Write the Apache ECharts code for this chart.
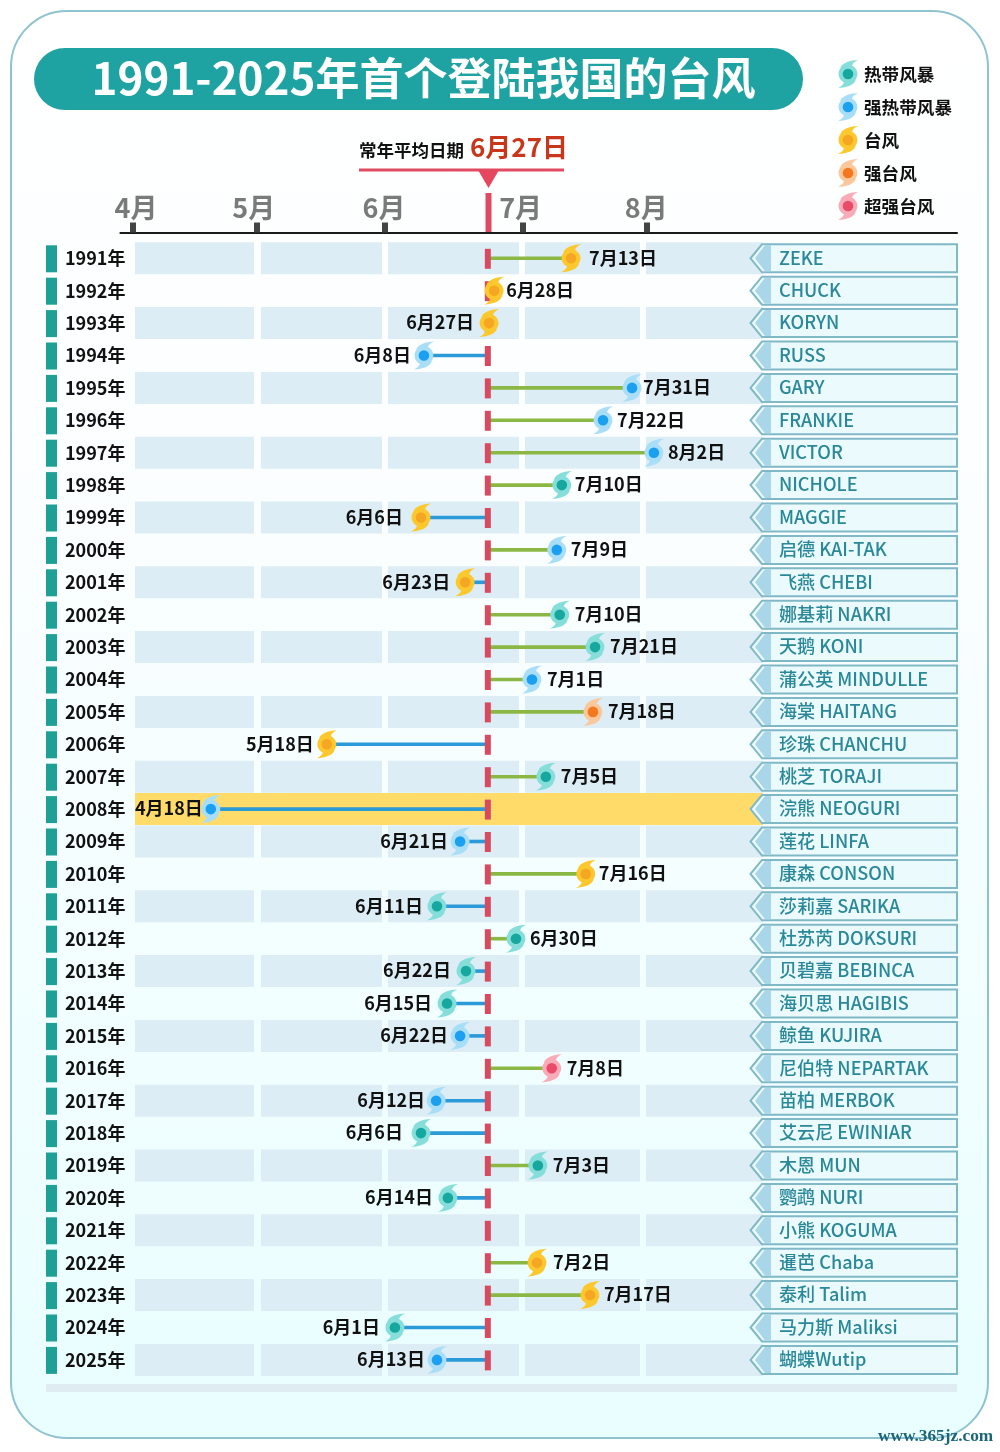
<!DOCTYPE html>
<html><head><meta charset="utf-8">
<style>html,body{margin:0;padding:0;background:#fff}#c{width:1000px;height:1452px}</style>
<script src="https://cdn.jsdelivr.net/npm/echarts@6/dist/echarts.min.js"></script>
</head><body><div id="c"></div>
<script>
const years = ['1991','1992','1993','1994','1995','1996','1997','1998','1999','2000','2001','2002','2003','2004','2005','2006','2007','2008','2009','2010','2011','2012','2013','2014','2015','2016','2017','2018','2019','2020','2021','2022','2023','2024','2025'];
const landingDates = ['7月13日','6月28日','6月27日','6月8日','7月31日','7月22日','8月2日','7月10日','6月6日','7月9日','6月23日','7月10日','7月21日','7月1日','7月18日','5月18日','7月5日','4月18日','6月21日','7月16日','6月11日','6月30日','6月22日','6月15日','6月22日','7月8日','6月12日','6月6日','7月3日','6月14日',null,'7月2日','7月17日','6月1日','6月13日'];
// place of each mark along the picture's time axis (axis units, whose spacing is uneven)
const axisPlaces = [104.2,85.9,84.7,69.2,118.7,111.8,123.9,102.0,68.5,100.8,79.0,101.5,109.9,94.9,109.4,46.1,98.2,18.5,77.8,107.7,72.3,91.1,79.2,74.7,77.8,99.6,72.1,68.5,96.3,74.9,null,96.1,108.7,62.3,72.3];
const grades = ['台风','台风','台风','强热带风暴','强热带风暴','强热带风暴','强热带风暴','热带风暴','台风','强热带风暴','台风','热带风暴','热带风暴','强热带风暴','强台风','台风','热带风暴','强热带风暴','强热带风暴','台风','热带风暴','热带风暴','热带风暴','热带风暴','强热带风暴','超强台风','强热带风暴','热带风暴','热带风暴','热带风暴',null,'台风','台风','热带风暴','强热带风暴'];
const typhoonNames = ['ZEKE','CHUCK','KORYN','RUSS','GARY','FRANKIE','VICTOR','NICHOLE','MAGGIE','启德 KAI-TAK','飞燕 CHEBI','娜基莉 NAKRI','天鹅 KONI','蒲公英 MINDULLE','海棠 HAITANG','珍珠 CHANCHU','桃芝 TORAJI','浣熊 NEOGURI','莲花 LINFA','康森 CONSON','莎莉嘉 SARIKA','杜苏芮 DOKSURI','贝碧嘉 BEBINCA','海贝思 HAGIBIS','鲸鱼 KUJIRA','尼伯特 NEPARTAK','苗柏 MERBOK','艾云尼 EWINIAR','木恩 MUN','鹦鹉 NURI','小熊 KOGUMA','暹芭 Chaba','泰利 Talim','马力斯 Maliksi','蝴蝶Wutip'];
const monthLabels = ['4月','5月','6月','7月','8月'];
const monthPlaces = [0,29.5,59.9,92.6,122.1];
const monthLabelPlaces = [0.7,28.7,59.7,92.2,122.1];
const legendGrades = ['热带风暴','强热带风暴','台风','强台风','超强台风'];
const averagePlace = 84.4;
const averageDate = '6月27日';
const highlightYear = '2008';

// styling only: extra gap between a mark and its date label, per year
const labelNudge = {1991:3,1992:-3,1994:-2,1995:-4,1996:-1,1997:-1,1998:-2,1999:3,2000:-1,2006:-2,2008:-7,2009:-3,2010:-2,2011:-1,2012:-1,2015:-3,2017:-4,2018:3,2022:1,2023:-1,2025:-3};
const gradeColors = {
  '热带风暴':['#86dedb','#16a79f'],
  '强热带风暴':['#a9def8','#1b9ff0'],
  '台风':['#fcc82e','#f5a623'],
  '强台风':['#fbc89c','#f5781f'],
  '超强台风':['#f9abb8','#e94b68']
};
const CJK = '"Noto Sans CJK SC"';
const HALO = 'M-8.5,0 C-8.5,-4.7 -4.7,-8.5 0,-8.5 C4.7,-8.5 8.5,-4.7 8.5,0 C8.5,4.7 4.7,8.5 0,8.5 C-4.7,8.5 -8.5,4.7 -8.5,0 Z M9,-13 C6,-11.5 4,-10 3.5,-7 L-7,-5 C-6,-10 1,-12.5 9,-13 Z M-9,13 C-6,11.5 -4,10 -3.5,7 L7,5 C6,10 -1,12.5 -9,13 Z';
function glyph(cx, cy, g){
  const c = gradeColors[g];
  return [
    {type:'path', shape:{pathData:HALO, x:cx-10, y:cy-14, width:20, height:28, layout:'cover'}, style:{fill:c[0]}},
    {type:'circle', shape:{cx:cx, cy:cy, r:5.3}, style:{fill:c[1]}}
  ];
}
function dateNum(s){ const m=s.match(/(\d+)月(\d+)日/); return +m[1]*100 + +m[2]; }
const idx = years.map((_, i) => i);
const bandEdges = [[135,254],[261,382],[388,519],[525,640],[646,763]];

const option = {
  animation:false,
  backgroundColor:'#ffffff',
  textStyle:{fontFamily:CJK},
  graphic:[
    {type:'rect', z:-10, shape:{x:11,y:11,width:977,height:1427,r:56},
     style:{stroke:'#8fc3cf',lineWidth:2,fill:{type:'linear',x:0,y:0,x2:0,y2:1,colorStops:[{offset:0,color:'#ffffff'},{offset:0.35,color:'#fbfeff'},{offset:1,color:'#e9feff'}]}}},
    {type:'rect', z:-9, shape:{x:34,y:48,width:769,height:62,r:31}, style:{fill:'#1fa2a2'}},
    {type:'text', z:-8, x:423.5, y:78, style:{text:'1991-2025年首个登陆我国的台风', fill:'#fff', font:'bold 44px '+CJK, align:'center', verticalAlign:'middle'}},
    {type:'text', z:-8, x:359, y:150, style:{text:'常年平均日期', fill:'#111', font:'bold 17.5px '+CJK, align:'left', verticalAlign:'middle'}},
    {type:'text', z:-8, x:470, y:147, style:{text:averageDate, fill:'#c8361c', font:'bold 26px '+CJK, align:'left', verticalAlign:'middle'}},
    {type:'rect', z:-8, shape:{x:359,y:168.5,width:205,height:3}, style:{fill:'#e24a60'}},
    {type:'polygon', z:-8, shape:{points:[[478,170],[499,170],[488.5,188]]}, style:{fill:'#e5475f'}},
    {type:'rect', z:-8, shape:{x:485.5,y:193,width:6,height:41}, style:{fill:'#dd4b62'}},
    {type:'rect', z:-8, shape:{x:46,y:1384,width:911,height:8}, style:{fill:'#dfedf3'}},
    {type:'text', z:20, x:878, y:1437, style:{text:'www.365jz.com', fill:'#1a6678', font:'bold 17.3px "Liberation Serif"', align:'left', verticalAlign:'middle'}}
  ],
  grid:{left:120.4, width:836.6, top:242.1, height:1134},
  xAxis:{type:'value', position:'top', offset:9.5, min:-3, max:196,
    axisLine:{show:true,onZero:false,lineStyle:{color:'#1a1a1a',width:2}},
    axisTick:{show:true,customValues:monthPlaces,length:10,lineStyle:{color:'#444',width:6}},
    axisLabel:{show:true,customValues:monthLabelPlaces,margin:11,color:'#7a7a7a',fontSize:27,fontWeight:'bold',fontFamily:CJK,
      formatter:v=>monthLabels[monthLabelPlaces.indexOf(v)]||''},
    splitLine:{show:false}},
  yAxis:{type:'category', inverse:true, data:years,
    axisLine:{show:false}, axisTick:{show:false}, splitLine:{show:false},
    axisLabel:{margin:-5,color:'#111',fontSize:18,fontWeight:'bold',fontFamily:CJK,formatter:'{value}年',interval:0}},
  series:[
    {type:'custom', name:'bands', z:1, clip:false, silent:true, encode:{x:0,y:1},
      data:idx.map(i=>[0,i]),
      renderItem(p,api){
        const i=api.value(1), y=api.coord([0,i])[1];
        const hi=years[i]===highlightYear;
        const kids=[{type:'rect',shape:{x:46,y:y-13,width:11,height:27},style:{fill:'#1fa096'}}];
        if(hi) kids.push({type:'rect',shape:{x:135,y:y-16,width:628,height:32},style:{fill:'#ffdc6a'}});
        else if(i%2===0) bandEdges.forEach(e=>kids.push({type:'rect',shape:{x:e[0],y:y-16,width:e[1]-e[0],height:32},style:{fill:'#dcedf5'}}));
        return {type:'group',children:kids};
      }},
    {type:'custom', name:'tags', z:2, clip:false, silent:true, encode:{x:0,y:1},
      data:idx.map(i=>[0,i]),
      renderItem(p,api){
        const i=api.value(1), y=api.coord([0,i])[1];
        return {type:'group',children:[
          {type:'polygon',shape:{points:[[957,y-14],[762,y-14],[750.5,y],[762,y+14],[957,y+14]]},
            style:{fill:'#eafafd',stroke:'#80b8c6',lineWidth:2}},
          {type:'polygon',shape:{points:[[771,y-13],[765,y-13],[755,y],[765,y+13],[771,y+13]]},style:{fill:'#a9d6e8'}},
          {type:'text',x:779,y:y-0.5,style:{text:typhoonNames[i],fill:'#2a8899',font:'500 18.1px '+CJK,align:'left',verticalAlign:'middle'}}
        ]};
      }},
    {type:'custom', name:'stems', z:3, clip:false, silent:true, encode:{x:0,y:1},
      data:idx.map(i=>[axisPlaces[i]===null?averagePlace:axisPlaces[i],i]),
      renderItem(p,api){
        const v=api.value(0), i=api.value(1), a=api.coord([averagePlace,i]), b=api.coord([v,i]);
        const kids=[];
        if(Math.abs(b[0]-a[0])>1) kids.push({type:'line',shape:{x1:a[0],y1:a[1],x2:b[0],y2:b[1]},
          style:{stroke:b[0]>a[0]?'#8bb744':'#2b9ad8',lineWidth:3.6}});
        kids.push({type:'rect',shape:{x:a[0]-3,y:a[1]-9.5,width:6,height:20},style:{fill:'#d84a60'}});
        return {type:'group',children:kids};
      }},
    {type:'custom', name:'landfalls', z:4, clip:false, silent:true, encode:{x:0,y:1},
      data:idx.filter(i=>axisPlaces[i]!==null).map(i=>[axisPlaces[i],i]),
      renderItem(p,api){
        const v=api.value(0), i=api.value(1), c=api.coord([v,i]);
        const right = dateNum(landingDates[i]) > dateNum(averageDate);
        const gap = 15 + (labelNudge[years[i]]||0);
        return {type:'group',children:glyph(c[0],c[1],grades[i]).concat([
          {type:'text',x:c[0]+(right?gap:-gap),y:c[1]-0.5,style:{text:landingDates[i],fill:'#111',font:'bold 18px '+CJK,align:right?'left':'right',verticalAlign:'middle'}}
        ])};
      }},
    {type:'custom', name:'legend', coordinateSystem:'none', z:5, silent:true,
      data:legendGrades.map((g,i)=>[i]),
      renderItem(p,api){
        const i=api.value(0), y=74+i*33;
        return {type:'group',children:glyph(848,y,legendGrades[i]).concat([
          {type:'text',x:864,y:y,style:{text:legendGrades[i],fill:'#111',font:'bold 17.6px '+CJK,align:'left',verticalAlign:'middle'}}
        ])};
      }}
  ]
};
const chart = echarts.init(document.getElementById('c'));
chart.setOption(option);
</script></body></html>
